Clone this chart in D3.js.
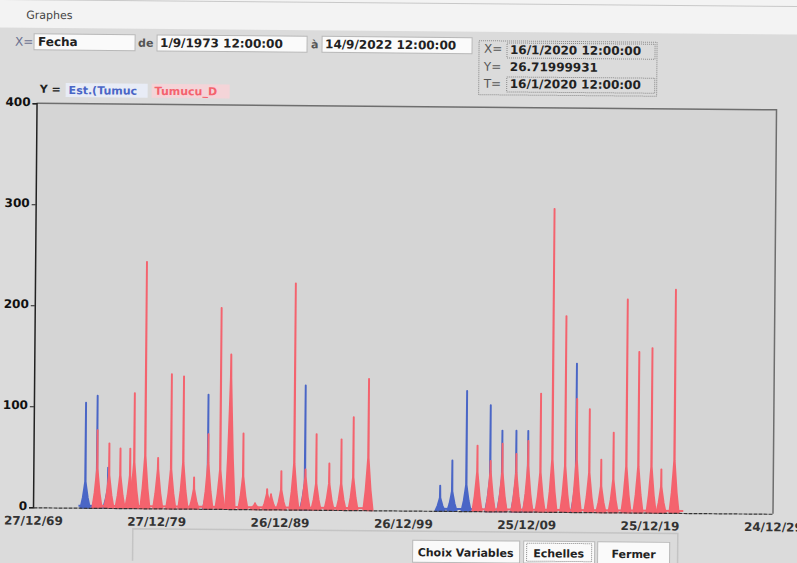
<!DOCTYPE html>
<html lang="fr">
<head>
<meta charset="utf-8">
<title>Graphes</title>
<script src="https://d3js.org/d3.v7.min.js"></script>
<style>
  body { margin: 0; background: #dbdbdb; }
  svg { display: block; }
  text { font-family: "DejaVu Sans", sans-serif; }
</style>
</head>
<body>
<script>
// ---- data ----
var xTicks = ["1969-12-27", "1979-12-27", "1989-12-26", "1999-12-26", "2009-12-25", "2019-12-25", "2029-12-24"];
var yTicks = [0, 100, 200, 300, 400];

// Tumucu_D (red): date of each flood peak, peak value, value of the wide base
var redDates = ["1975-03-05", "1976-02-20", "1977-01-15", "1977-11-01", "1978-03-01", "1979-01-20", "1980-02-05",
  "1981-02-25", "1982-02-20", "1983-01-10", "1984-03-01", "1985-02-20", "1985-12-15", "1987-01-01", "1987-12-25",
  "1988-12-15", "1989-04-10", "1990-02-05", "1991-02-20", "1992-01-20", "1992-12-05", "1993-12-25", "1994-12-15",
  "1995-12-05", "1997-02-20", "2005-12-25", "2007-01-20", "2008-01-05", "2009-02-20", "2010-02-05", "2011-02-05",
  "2012-01-22", "2013-02-05", "2014-01-10", "2015-01-22", "2016-01-10", "2017-01-05", "2018-01-22", "2019-01-12",
  "2020-02-05", "2020-11-25", "2021-12-15"];
var redPeaks = [77, 64, 59, 59, 114, 244, 50, 133, 131, 31, 74, 199, 153, 75, 6, 20, 15, 38, 224, 40, 75, 46, 70,
  92, 130, 65, 50, 67, 57, 70, 117, 300, 194, 112, 102, 52, 79, 211, 159, 163, 43, 221];
var redBase = [30, 25, 25, 25, 35, 40, 30, 30, 35, 15, 35, 30, 100, 25, 4, 12, 10, 15, 35, 25, 20, 20, 20, 25, 40,
  30, 30, 30, 30, 35, 30, 40, 35, 40, 30, 20, 25, 35, 35, 35, 20, 40];
var redPeriods = [["1975-01-01", "1997-06-01"], ["2005-09-01", "2022-09-14"]];

// Est.(Tumuc (blue)
var blueDates = ["1974-03-20", "1975-02-25", "1976-01-20", "1984-02-20", "1992-01-05", "2002-12-25", "2003-12-15",
  "2005-02-05", "2007-01-10", "2007-12-28", "2009-02-15", "2010-02-01", "2013-12-25"];
var bluePeaks = [104, 111, 40, 113, 123, 25, 50, 119, 105, 80, 80, 80, 147];
var blueBase = [20, 15, 15, 20, 20, 10, 15, 20, 25, 25, 25, 25, 25];
var bluePeriods = [["1973-09-01", "1976-06-01"], ["2002-09-01", "2006-06-01"]];

var w = 797, h = 563;
var pLeft = 35, pRight = 775, pTop = 106.5, pBottom = 510.5;
var red = "#f4636e", blue = "#4a66c6";

var parse = d3.timeParse("%Y-%m-%d");
var day = 864e5;

var svg = d3.select("body").append("svg").attr("width", w).attr("height", h);
svg.append("rect").attr("width", w).attr("height", h).attr("fill", "#dbdbdb");
var g = svg.append("g").attr("transform", "rotate(0.5," + w / 2 + "," + h / 2 + ")");

// window parts
g.append("rect").attr("x", -10).attr("y", -10).attr("width", w + 20).attr("height", 41).attr("fill", "#f3f3f3");
g.append("line").attr("x1", 0).attr("x2", w).attr("y1", 3).attr("y2", 3).attr("stroke", "#c8c8c8");
g.append("text").attr("x", 24).attr("y", 22).attr("font-size", 11).attr("fill", "#444").text("Graphes");

// scales
var x = d3.scaleTime()
  .domain([parse(xTicks[0]), parse(xTicks[xTicks.length - 1])])
  .range([pLeft, pRight]);
var y = d3.scaleLinear().domain([0, 400]).range([pBottom, pTop]);

// plot area
g.append("rect").attr("x", pLeft).attr("y", pTop).attr("width", pRight - pLeft).attr("height", pBottom - pTop)
  .attr("fill", "#d5d5d5");
g.append("path").attr("d", "M" + pLeft + "," + pTop + "H" + pRight + "V" + pBottom)
  .attr("fill", "none").attr("stroke", "#6e6e6e").attr("stroke-width", 1.5);

// spike glyph: [offset in days, share of base, share of peak]
var shape = [[-140, 0, 0], [-75, 0.5, 0], [-32, 1, 0], [-8, 1.3, 0], [-2, 0, 1],
  [2, 0, 1], [8, 1.3, 0], [32, 1, 0], [75, 0.5, 0], [140, 0, 0]];

var area = d3.area()
  .x(function(d) { return x(d[0]); })
  .y0(y(0))
  .y1(function(d) { return y(d[1]); });

function spikes(dates, peaks, base, color) {
  var data = dates.map(function(s, i) {
    var t = parse(s).getTime();
    return shape.map(function(p) {
      return [new Date(t + p[0] * day), base[i] * p[1] + peaks[i] * p[2]];
    });
  });
  g.append("g").selectAll("path").data(data).join("path")
    .attr("d", area)
    .attr("fill", color)
    .attr("stroke", color)
    .attr("stroke-width", 1.8)
    .attr("stroke-linejoin", "round");
}

function baseline(periods, color) {
  g.append("g").selectAll("line").data(periods).join("line")
    .attr("x1", function(d) { return x(parse(d[0])); })
    .attr("x2", function(d) { return x(parse(d[1])); })
    .attr("y1", y(2)).attr("y2", y(2))
    .attr("stroke", color).attr("stroke-width", 2);
}

baseline(bluePeriods, blue);
spikes(blueDates, bluePeaks, blueBase, blue);
baseline(redPeriods, red);
spikes(redDates, redPeaks, redBase, red);

// axes
var yAxis = d3.axisLeft(y).tickValues(yTicks).tickSize(4).tickPadding(2);
var ya = g.append("g").attr("transform", "translate(" + pLeft + ",0)").call(yAxis);
ya.select(".domain").attr("stroke", "#222").attr("stroke-width", 1.5);
ya.selectAll(".tick line").attr("stroke", "#222");
ya.selectAll("text").attr("font-size", 12).attr("font-weight", "bold").attr("fill", "#111")
  .attr("font-family", "DejaVu Sans").attr("dy", "0.2em");

var xAxis = d3.axisBottom(x).tickValues(xTicks.map(parse)).tickSize(0).tickPadding(9)
  .tickFormat(d3.timeFormat("%d/%m/%y"));
var xa = g.append("g").attr("transform", "translate(0," + pBottom + ")").call(xAxis);
xa.select(".domain").attr("stroke", "#333").attr("stroke-width", 1.2).attr("stroke-dasharray", "4,1");
xa.selectAll("text").attr("font-size", 12).attr("font-weight", "bold").attr("fill", "#333")
  .attr("font-family", "DejaVu Sans");

// top controls
function box(x0, y0, bw, bh, dotted) {
  g.append("rect").attr("x", x0).attr("y", y0).attr("width", bw).attr("height", bh)
    .attr("fill", dotted ? "none" : "#fafafa")
    .attr("stroke", dotted ? "#888" : "#b8b8b8")
    .attr("stroke-dasharray", dotted ? "1,1" : null);
}
function label(tx, ty, s, opts) {
  opts = opts || {};
  return g.append("text").attr("x", tx).attr("y", ty).text(s)
    .attr("font-size", opts.size || 12)
    .attr("font-weight", opts.weight || "bold")
    .attr("fill", opts.fill || "#222")
    .attr("text-anchor", opts.anchor || "start");
}

label(13, 49, "X=", {fill: "#6a7090", weight: "normal"});
box(32, 37, 101, 16);
label(36, 49, "Fecha");
label(136, 49, "de", {fill: "#555", size: 11});
box(155, 37, 150, 16);
label(158, 49, "1/9/1973 12:00:00");
label(309, 49, "à", {fill: "#555", size: 11});
box(320, 37, 150, 16);
label(323, 49, "14/9/2022 12:00:00");

box(477, 40, 178, 54, true);
label(482, 52, "X=", {fill: "#555", weight: "normal"});
box(505, 42, 148, 15, true);
label(508, 53, "16/1/2020 12:00:00");
label(482, 70, "Y=", {fill: "#555", weight: "normal"});
label(508, 70, "26.71999931");
label(482, 87, "T=", {fill: "#555", weight: "normal"});
box(505, 76, 148, 15, true);
label(508, 87, "16/1/2020 12:00:00");

// legend
label(38, 96, "Y =", {size: 11});
g.append("rect").attr("x", 64).attr("y", 86).attr("width", 82).attr("height", 14).attr("fill", "#e8ecf6");
label(67, 97, "Est.(Tumuc", {size: 11, fill: blue});
g.append("rect").attr("x", 150).attr("y", 86).attr("width", 78).attr("height", 14).attr("fill", "#f4d4d8");
label(153, 97, "Tumucu_D", {size: 11, fill: red});

// bottom buttons
g.append("path").attr("d", "M135,563V531H680V563").attr("fill", "none").attr("stroke", "#c4c4c4").attr("stroke-width", 1.5);
box(415, 540, 107, 22);
label(468, 556, "Choix Variables", {size: 11, anchor: "middle"});
box(526, 540, 71, 22);
box(529, 542, 65, 18, true);
label(561, 556, "Echelles", {size: 11, anchor: "middle"});
box(600, 540, 72, 22);
label(636, 556, "Fermer", {size: 11, anchor: "middle"});
</script>
</body>
</html>
